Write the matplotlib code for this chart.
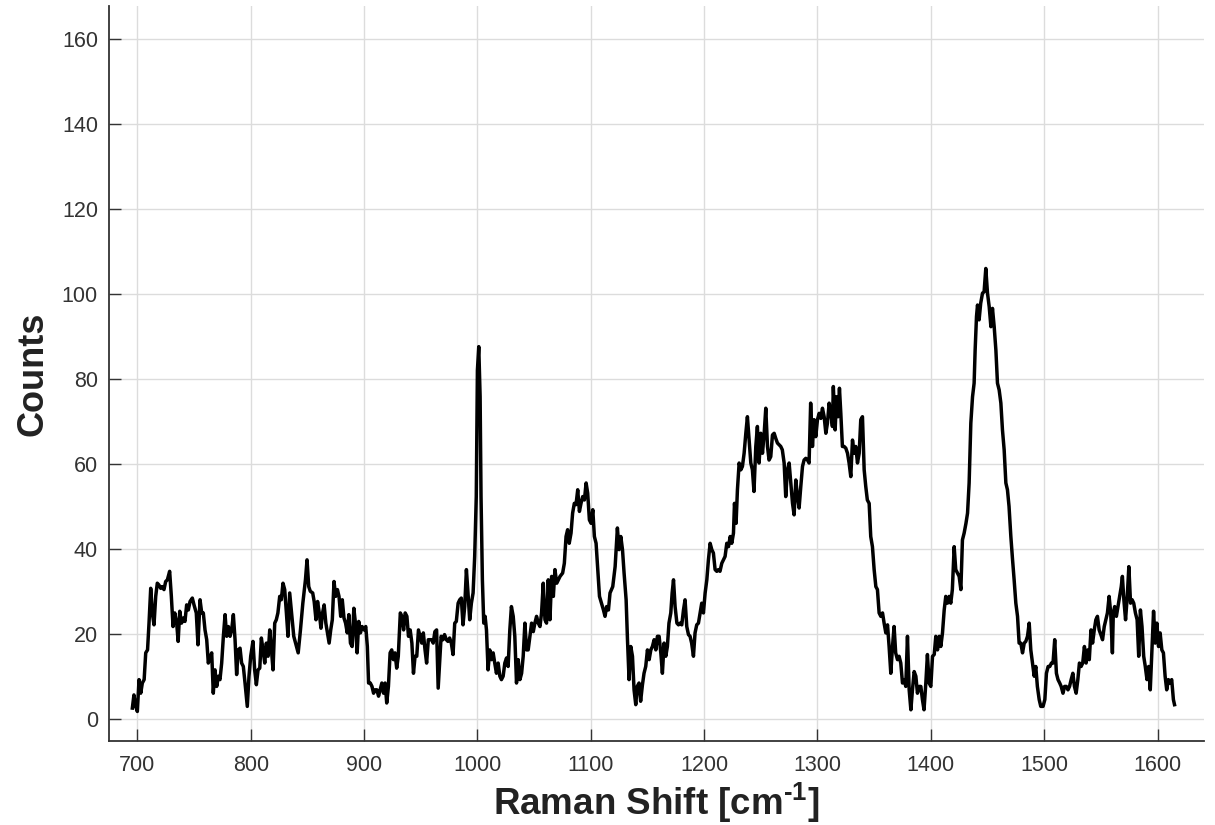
import matplotlib
matplotlib.use("Agg")
import matplotlib.pyplot as plt

# Raman spectrum, values
shift = [
    695.6, 697, 698.5, 700, 701.5, 703, 704.4, 706, 707.4, 709, 710.3, 711.8, 713.2, 714.7,
    716.2, 717.6, 719, 720.6, 722, 723.5, 725, 726.5, 728.5, 730, 731.5, 733, 734.7, 736,
    737.4, 739, 740.6, 742, 743.5, 745, 746.5, 748.5, 750, 752, 753.5, 755.3, 756.8, 758.2,
    759.7, 761.2, 762.6, 764, 765.6, 767, 768.5, 770, 771.5, 772.9, 774.4, 775.9, 777.4,
    778.8, 780.3, 781.8, 783.2, 784.7, 786.2, 787.6, 789, 790.6, 792, 793.5, 795, 797,
    798.5, 800, 802, 803.5, 805, 806.5, 808, 809.4, 810.9, 812.4, 813.8, 815.3, 816.8,
    818.2, 819.7, 821.2, 822.6, 824, 825.6, 827, 828.5, 830, 831.5, 832.9, 834.4,
    838, 840, 841.9, 843.9, 846, 848.3, 849.7, 851.2, 852.6, 854.7, 856, 857.6, 859, 860.5,
    862, 863.4, 864.8, 866.3, 867.7, 869.2, 870.6, 872, 873.5, 875, 876.5, 877.9, 879.4,
    880.8, 882.3, 883.7, 885.2, 886.6, 888, 889.5, 891, 892.4, 893.9, 895.3, 896.8, 898.3,
    900, 901.5, 902.9, 904, 905.5, 907, 908.4, 909.9, 911.3, 912.8, 914.2, 915.7, 917.2,
    918.6, 920, 921.5, 923, 924.4, 925.9, 927.3, 928.8, 930.2, 932, 933.4, 934.9, 936.3,
    937.8, 939.2, 940.7, 942.2, 943.6, 945, 946.5, 948, 949.4, 950.9, 952.3, 953.8, 955.2,
    956.7, 958.1, 959.6, 961, 962.5, 964, 965.4,
    968, 969.6, 971, 972.6, 974, 975.5, 977, 978.5, 980, 981.4, 983, 984.4, 985.8, 987.3,
    988.8, 990.3, 991.7, 993.2, 994.7, 996.2, 997.6, 999, 1000, 1001.2, 1002.4, 1003.2,
    1004.4, 1005.6, 1006.8, 1008, 1009.4, 1010.9, 1012.4, 1013.9, 1015.3, 1016.8, 1018.3,
    1019.8, 1021.2, 1022.7, 1024.2, 1025.7, 1027.1, 1028.6, 1030, 1031.6, 1033, 1034.5,
    1036, 1037.5, 1039, 1040.4, 1041.9, 1043.4, 1044.8, 1046.3, 1047.8, 1049.3, 1050.7,
    1052.2, 1053.7, 1055.2, 1056.6, 1058.1, 1059.6, 1061, 1062.5, 1064, 1065.5, 1067,
    1068.4, 1070, 1071.4, 1072.9, 1075.2, 1076.7, 1078.2, 1079.6, 1081, 1082.6, 1084,
    1085.5, 1087, 1088.5, 1090, 1091.4, 1092.9, 1094.4, 1095.9, 1097.3, 1098.8, 1100.3,
    1101.8, 1103.2, 1104.7, 1106.2, 1107.7,
    1111.2, 1112.6, 1114, 1115.6, 1117, 1119.4, 1121.5, 1123.5, 1125, 1126.5, 1128, 1129.4,
    1131.2, 1132.4, 1133.8, 1135.3, 1136.8, 1138.2, 1139.7, 1141, 1142.6, 1144, 1145.6,
    1147, 1148.5, 1150, 1151.5, 1153, 1154.4, 1155.9, 1157.4, 1158.8, 1160.3, 1161.8,
    1163.2, 1164.7, 1166.2, 1167.6, 1169, 1170.6, 1171.8, 1173, 1174.4, 1176, 1177.4,
    1178.8, 1180.3, 1181.8, 1183.2, 1184.7, 1186.2, 1187.6, 1189, 1190.6, 1192, 1193.5,
    1195, 1196.5, 1197.9, 1199.4, 1200.9, 1202.4, 1203.8, 1205.3, 1206.8, 1208.2, 1209.7,
    1211.2, 1212.6, 1214, 1215.6, 1217, 1218.5, 1220, 1221.5, 1223, 1224.4, 1225.9,
    1226.8, 1228.2, 1229.4, 1230.9, 1232.4, 1233.8, 1235.3, 1236.8, 1238.2, 1239.7,
    1241.2, 1242.6, 1244, 1245.6, 1247, 1248.5, 1250, 1251.5, 1253, 1254.4, 1255.9,
    1257.3, 1258.8, 1260.3, 1261.8, 1263.2, 1264.7, 1266.2,
    1267.6, 1269, 1270.6, 1272, 1273.5, 1275, 1276.5, 1278, 1279.4, 1280.9, 1282.4,
    1283.8, 1285.3, 1286.8, 1288.2, 1289.7, 1291.2, 1292.6, 1294, 1295.6, 1297, 1298.5,
    1300, 1301.5, 1303, 1304.4, 1305.9, 1307.4, 1308.8, 1310.3, 1311.8, 1313.2, 1314,
    1315.6, 1316.8, 1318.2, 1319.4, 1320.6, 1322, 1323.5, 1325, 1326.5, 1327.9, 1329.4,
    1330.9, 1332.4, 1333.8, 1335.3, 1336.8, 1338.2, 1339.7, 1341.2, 1342.6, 1344, 1345.6,
    1347, 1348.5, 1350, 1351.5, 1352.9, 1354.4, 1355.9, 1357.4, 1358.8, 1360.3, 1361.8,
    1363.2, 1364.7, 1366.2, 1367.6, 1369, 1370.6, 1372, 1373.5, 1375, 1376.5, 1377.9,
    1379.4, 1380.9, 1382.4, 1383.8, 1385.3, 1386.8, 1388.2, 1389.7,
    1391.2, 1392.6, 1394, 1395.6, 1397, 1398.5, 1400, 1401.5, 1403, 1404.4, 1405.9,
    1407.4, 1408.8, 1410.3, 1411.8, 1413.2, 1414.7, 1416.2, 1417.6, 1419, 1420.6, 1422,
    1423.5, 1425, 1426.5, 1427.9, 1429.4, 1431, 1432.4, 1433.8, 1435.3, 1436.8, 1438.2,
    1439.1, 1440.3, 1441.2, 1442.6, 1444, 1445.6, 1447, 1448.5, 1450, 1451.5, 1453,
    1454.4, 1455.9, 1457.4, 1458.8, 1460.3, 1461.8, 1463.2, 1464.7, 1466.2, 1467.6, 1469,
    1470.6, 1472, 1473.5, 1475, 1476.5, 1477.9, 1479.4, 1480.9, 1482.4, 1483.8, 1485.3,
    1486.8, 1488.2, 1489.7, 1491.2, 1492.6, 1494, 1495.6, 1497,
    1499, 1500.6, 1502, 1503.5, 1505, 1506.4, 1507.8, 1509.3, 1510.8, 1512.2, 1513.7,
    1515, 1516.6, 1518, 1519.5, 1521, 1522.4, 1523.8, 1525.3, 1526.7, 1528.2, 1529.7,
    1531.1, 1532.6, 1534, 1535.5, 1537, 1538.4, 1539.8, 1541.3, 1542.7, 1544.2, 1545.6,
    1547, 1548.5, 1550, 1551.5, 1553, 1554.4, 1555.8, 1557.3, 1558.7, 1560.2, 1561,
    1562.2, 1563.7, 1565.1, 1566.6, 1568, 1569, 1570.3, 1571.8, 1573.3, 1574.7, 1576.2,
    1577.6, 1579, 1580.5, 1582, 1583.4, 1584.9, 1586.3, 1587.8, 1589.2, 1590.7, 1592.2,
    1593.6, 1595, 1596.5, 1598, 1599.4, 1600.9, 1602.3, 1603.8, 1605.2, 1606.7, 1608.1,
    1609.6, 1611, 1612.5, 1614, 1615,
]

counts = [
    2.5, 5.6, 2.9, 1.7, 9.2, 6, 8.4, 9.2, 15.5, 16.2, 22.5, 30.7, 24.9, 22.1,
    28.8, 31.9, 31.5, 30.7, 31.1, 30.4, 32.3, 32.7, 34.7, 28.8, 21.7, 24.9, 22.5, 18.2,
    25.3, 22.5, 23.7, 22.9, 26.8, 25.6, 27.6, 28.4, 26.8, 24.9, 17.4, 28, 24.9, 24.9,
    20.9, 18.6, 13.1, 14.3, 15.5, 6, 11.5, 7.6, 10, 9.2, 13.1, 19.4, 24.5,
    19.4, 21.7, 19.4, 20.9, 24.5, 18.6, 10.4, 16.2, 16.6, 13.1, 12.3, 8.4, 2.9,
    10, 14.7, 18.2, 11.5, 8, 11.5, 11.9, 19, 16.2, 13.1, 17.8, 14.7, 20.9,
    16.6, 11.5, 22.5, 23.3, 24.9, 28.8, 28, 31.9, 30.4, 24.9, 19.4, 29.6,
    19.4, 17.4, 15.5, 20.9, 27.2, 32.7, 37.4, 31.1, 30, 29.6, 27.6, 23.3, 27.6, 24.9,
    21.3, 24.9, 26.8, 22.5, 20.2, 17.8, 20.9, 23.3, 32.3, 28.8, 30.4, 28.8, 24.1,
    28, 23.7, 22.5, 20.2, 24.5, 17.8, 17, 26, 22.5, 15.5, 22.9, 20.2, 21.7,
    20.9, 21.7, 17, 8.4, 8.4, 7.6, 6, 6.8, 6.8, 5.3, 6.8, 8.4, 6,
    8.4, 3.7, 7.6, 15.5, 16.2, 13.9, 15.5, 11.9, 14.7, 24.9, 24.1, 20.9, 24.9,
    24.1, 19.4, 20.9, 17.8, 10.7, 14.7, 14.7, 20.9, 19.4, 17.8, 20.2, 16.2, 13.1,
    18.6, 18.6, 18.6, 17.8, 20.5, 20.9, 7.2,
    19.4, 18.6, 19.8, 18.6, 18.2, 19, 17.8, 15.1, 22.5, 22.9, 27.2, 28, 28.4, 22.1,
    26.4, 35.1, 29.6, 23.3, 27.2, 29.6, 38.2, 52.3, 82, 87.6, 75.8, 52.3,
    32.7, 22.5, 24.1, 20.9, 11.5, 16.2, 13.9, 15.5, 13.1, 10.7, 13.1,
    10, 9.2, 10, 13.1, 14.3, 12.3, 20.9, 26.4, 24.1, 19.4, 8.4,
    13.9, 9.2, 10.7, 14.7, 22.5, 16.2, 16.2, 19.4, 22.5, 20.5, 22.5,
    24.1, 22.5, 21.7, 24.9, 31.9, 23.3, 22.5, 32.7, 23.3, 33.5, 28.8,
    35.1, 31.9, 32.7, 33.5, 34.3, 36.6, 42.9, 44.5, 41.3, 43.7, 48.4,
    50.7, 50.4, 53.9, 48.8, 50.7, 52.3, 51.5, 55.5, 53.1, 46.8, 46,
    49.2, 42.9, 41.3, 35.1, 28.8,
    25.6, 24.1, 26.4, 25.6, 29.6, 31.1, 35.8, 44.9, 39.8, 42.9, 39.8, 34.3,
    28, 18.6, 9.2, 17, 14.7, 6.8, 3.3, 7.6, 8.4, 4.1, 8,
    10.7, 12.3, 16.2, 13.9, 16.2, 17, 18.6, 16.2, 19.4, 19.4, 15.5,
    10.7, 17.8, 14.7, 17, 22.5, 24.9, 29.6, 32.7, 26.4, 22.5, 22.1,
    22.5, 22.1, 25.6, 28, 21.7, 19.8, 19.4, 17.8, 14.7, 20.2, 22.1,
    22.5, 24.9, 27.2, 24.9, 29.6, 32.7, 37.4, 41.3, 39.8, 39, 35.1,
    34.7, 35.1, 34.7, 36.6, 37.4, 38.2, 41.3, 40.5, 42.9, 41.3, 43.7,
    50.7, 46, 53.9, 60.2, 58.6, 59.4, 62.5, 67.2, 71.1, 65.6,
    60.2, 58.6, 53.5, 64.1, 68.8, 60.2, 67.2, 62.5, 67.2, 73.1, 64.1,
    60.9, 61.7, 66.8, 67.2, 66, 64.9, 64.5,
    64.1, 63.3, 60.2, 52.3, 58.6, 60.2, 55.5, 50.7, 48, 56.2, 52.3,
    49.6, 54.7, 59.4, 60.9, 61.3, 60.9, 60.2, 74.3, 64.1, 70.4, 66.4,
    70.4, 71.9, 70.7, 73.1, 71.1, 67.2, 69.6, 74.3, 71.9, 68.8, 78.2,
    68, 75.8, 71.1, 77.8, 71.9, 64.1, 64.1, 63.7, 62.5, 60.2, 57,
    65.6, 62.5, 64.1, 60.2, 62.5, 70.4, 71.1, 58.6, 54.7, 51.5, 50.7,
    42.9, 40.5, 35.1, 31.1, 30.4, 24.9, 24.1, 24.9, 22.5, 20.2, 22.1,
    17, 10.7, 17, 21.7, 15.5, 13.9, 14.7, 13.1, 8.4, 9.2, 7.6,
    19.4, 6.8, 2.1, 6.8, 11.1, 10, 6, 7.6,
    7.6, 4.5, 2.1, 8.4, 15.1, 8.4, 7.6, 14.7, 15.1, 19.4, 16.2,
    19.4, 17, 20.2, 25.6, 28.8, 27.2, 28.8, 27.2, 30.4, 40.5, 35.1,
    34.3, 33.5, 30.4, 42.1, 43.7, 46, 48.4, 55.5, 69.6, 75.8, 79,
    86.8, 94.7, 97.4, 93.9, 97.8, 100.2, 100.5, 106, 100.2, 97, 92.3,
    96.6, 92.3, 86.8, 79, 77.4, 74.3, 68, 63.3, 55.5, 53.9, 50,
    42.9, 37.8, 32.7, 27.2, 24.1, 17.8, 17.8, 15.5, 17.8, 18.2, 19.4,
    22.5, 16.2, 13.1, 10, 12.3, 7.6, 4.5, 2.9,
    2.9, 4.5, 10.7, 12.3, 12.3, 13.1, 13.1, 18.6, 10.7, 9.2, 8.4,
    7.6, 6, 7.6, 7.6, 6.8, 7.6, 9.2, 10.7, 7.6, 6, 9.2,
    13.1, 12.3, 13.1, 17, 13.1, 16.2, 13.9, 20.9, 17.8, 20.9, 23.3,
    24.1, 20.9, 19.8, 18.6, 21.7, 23.3, 24.9, 28.8, 24.9, 15.5, 24.9,
    26.4, 24.1, 26.4, 28.8, 31.1, 33.5, 28, 23.3, 28.8, 35.8, 27.2,
    28, 27.2, 24.9, 23.3, 14.7, 25.6, 21.7, 14.7, 12.3, 9.2, 12.3,
    6.8, 15.5, 25.3, 17.8, 22.5, 17, 20.2, 16.2, 15.5, 10, 6.8,
    9.2, 8.4, 9.2, 4.5, 3.3,
]

x_ticks = [700, 800, 900, 1000, 1100, 1200, 1300, 1400, 1500, 1600]
y_ticks = [0, 20, 40, 60, 80, 100, 120, 140, 160]

plt.rcParams["font.family"] = ["Liberation Sans", "DejaVu Sans"]
# bold sans for the "-1" superscript so it keeps a short hyphen
plt.rcParams["mathtext.fontset"] = "custom"
plt.rcParams["mathtext.rm"] = "Liberation Sans:bold"

fig = plt.figure(figsize=(12.15, 8.25), dpi=100)
ax = fig.add_axes([109 / 1215, 84 / 825, 1095 / 1215, 735 / 825])

ax.plot(shift, counts, color="black", linewidth=2.5, solid_joinstyle="round")

ax.set_xlim(675, 1641)
ax.set_ylim(-5.25, 167.8)
ax.set_xticks(x_ticks)
ax.set_yticks(y_ticks)

ax.grid(True, color="#dcdcdc", linewidth=1.0)
ax.set_axisbelow(True)

for side in ["top", "right"]:
    ax.spines[side].set_visible(False)
for side in ["left", "bottom"]:
    ax.spines[side].set_color("#333333")
    ax.spines[side].set_linewidth(1.3)

ax.tick_params(direction="in", length=8.5, width=1.0, colors="#333333",
               labelsize=15.5, pad=8)
ax.tick_params(axis="x", pad=10)

ax.set_xlabel(r"Raman Shift [cm$^{\text{-1}}$]", fontsize=26.5, fontweight="bold",
              color="#222222", labelpad=3)
ax.set_ylabel("Counts", fontsize=26, fontweight="bold", color="#222222", labelpad=8)

fig.savefig("out.png", dpi=100)
